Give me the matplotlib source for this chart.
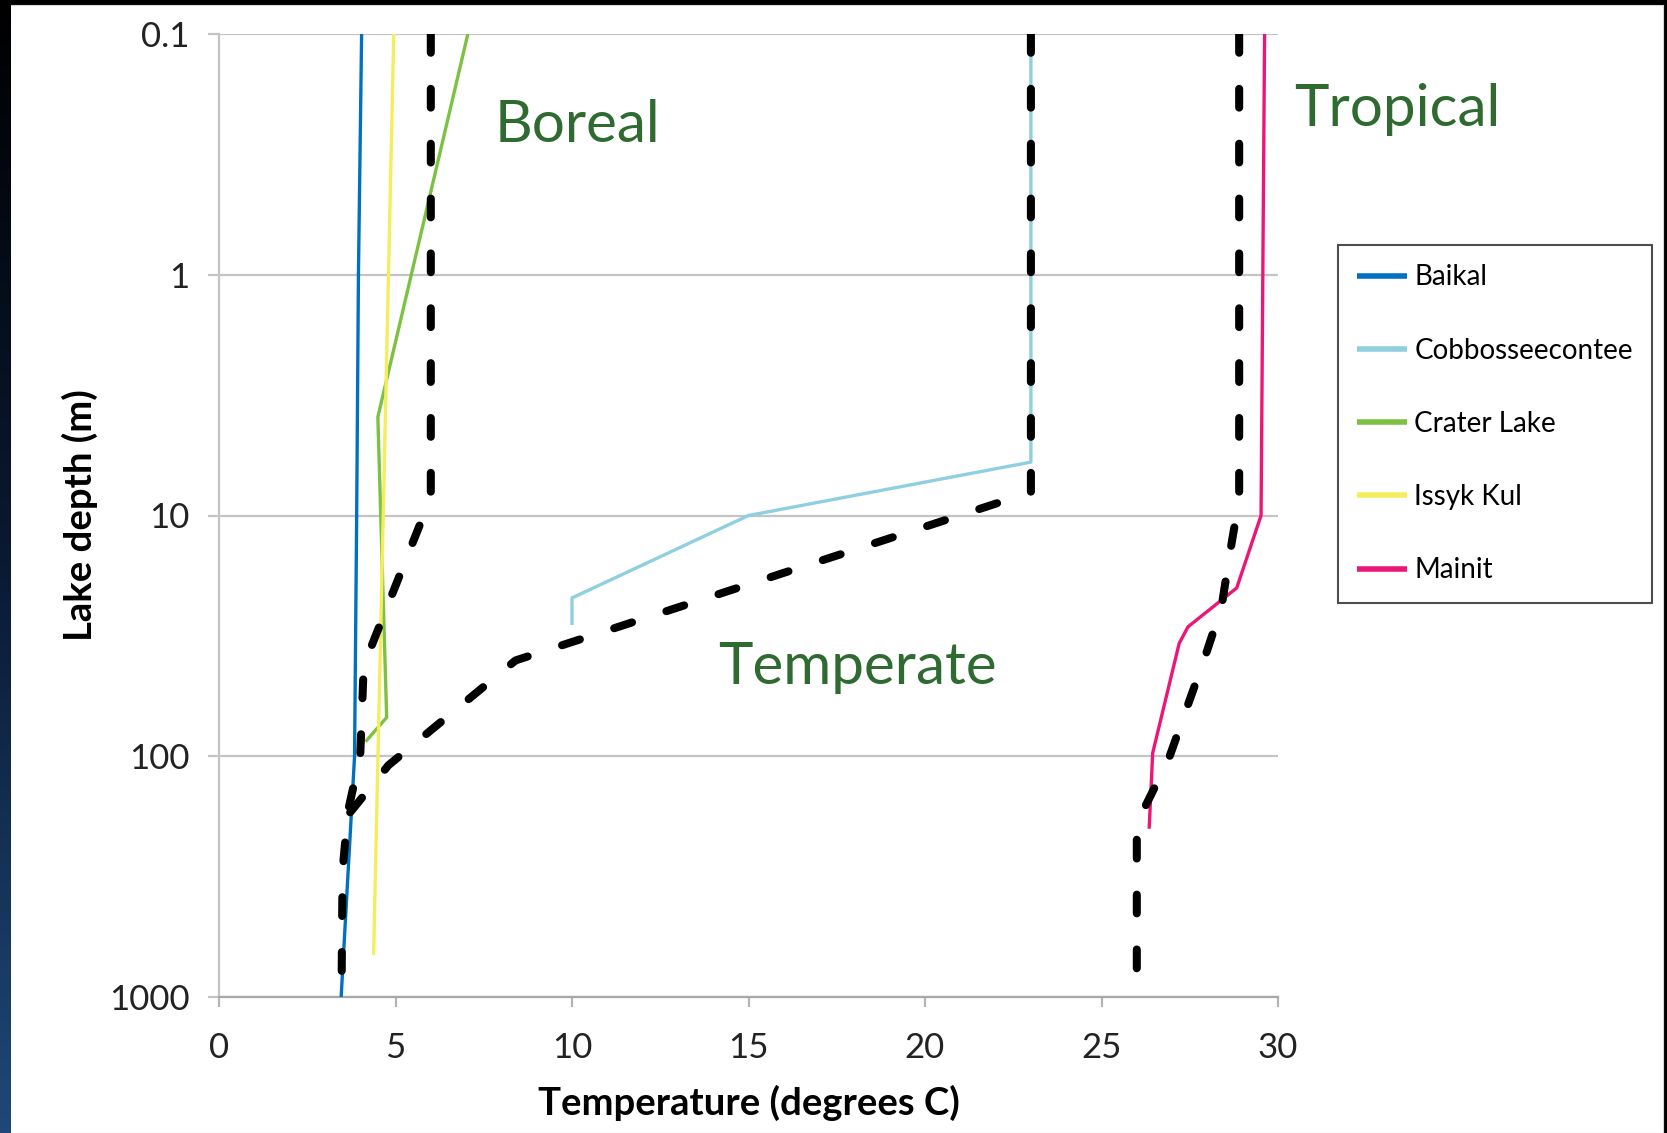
import matplotlib
matplotlib.use("Agg")
import matplotlib.pyplot as plt
import numpy as np
from matplotlib.ticker import FixedLocator, FixedFormatter

# lake temperature profiles (temperature in deg C, depth in m)
baikal_t = [4.04, 3.95, 3.9, 3.84, 3.46]
baikal_d = [0.1, 1, 10, 100, 1000]

cobb_t = [23.0, 23.0, 15.0, 10.0, 10.0]
cobb_d = [0.1, 6, 10, 22, 28.5]

crater_t = [7.05, 4.5, 4.75, 4.15]
crater_d = [0.1, 3.9, 69, 87]

issyk_t = [4.95, 4.38]
issyk_d = [0.1, 668]

mainit_t = [29.62, 29.52, 28.83, 27.45, 27.2, 26.45, 26.35]
mainit_d = [0.1, 10, 20, 29, 34, 97, 200]

# dashed envelopes drawn over the profiles
boreal_t = [6.0, 6.0, 4.1, 4.0, 3.65, 3.5, 3.47]
boreal_d = [0.1, 8.4, 42, 100, 170, 300, 1000]

temperate_t = [23.0, 23.0, 8.4, 4.8, 3.7]
temperate_d = [0.1, 8.0, 40, 109, 172]

tropical_t = [28.9, 28.9, 28.65, 28.4, 27.95, 27.4, 26.9, 26.2, 26.0, 26.0]
tropical_d = [0.1, 8.5, 14, 24, 38, 64, 103, 166, 210, 800]

lake_names = ["Baikal", "Cobbosseecontee", "Crater Lake", "Issyk Kul", "Mainit"]
lake_colors = ["#0070c0", "#8fcfe0", "#7cc142", "#f4ee5e", "#ec1677"]

y_ticks = [0.1, 1, 10, 100, 1000]
y_labels = ["0.1", "1", "10", "100", "1000"]
x_ticks = [0, 5, 10, 15, 20, 25, 30]

plt.rcParams['font.family'] = ['Lato', 'DejaVu Sans']
plt.rcParams['lines.scale_dashes'] = False

fig = plt.figure(figsize=(16.67, 11.33), dpi=100)
fig.patch.set_facecolor("black")

# white slide panel and the dark gradient strip on the left
panel = fig.add_axes([10 / 1667, 0, 1653 / 1667, 1128 / 1133])
panel.set_facecolor("white")
panel.set_xticks([])
panel.set_yticks([])
for s in panel.spines.values():
    s.set_color("#d8d8d8")
strip = fig.add_axes([0, 0, 10 / 1667, 1])
grad = np.linspace(0, 1, 256).reshape(-1, 1)
strip.imshow(grad, aspect="auto", cmap=matplotlib.colors.LinearSegmentedColormap.from_list(
    "s", ["#000000", "#0a1a33", "#1f4878"]), extent=[0, 1, 0, 1], origin="upper")
strip.axis("off")

ax = fig.add_axes([219 / 1667, 136 / 1133, 1059 / 1667, 963 / 1133])
ax.set_facecolor("none")

series = [(baikal_t, baikal_d), (cobb_t, cobb_d), (crater_t, crater_d),
          (issyk_t, issyk_d), (mainit_t, mainit_d)]
for (t, d), name, col in zip(series, lake_names, lake_colors):
    ax.plot(t, d, color=col, lw=2.4, label=name, solid_capstyle="butt", zorder=3)

for t, d in [(boreal_t, boreal_d), (temperate_t, temperate_d), (tropical_t, tropical_d)]:
    ax.plot(t, d, color="black", lw=5.8, dashes=(13.5, 26), dash_capstyle="round",
            zorder=4, label="_nolegend_")

ax.set_yscale("log")
ax.set_ylim(1000, 0.1)
ax.set_xlim(0, 30)
ax.yaxis.set_major_locator(FixedLocator(y_ticks))
ax.yaxis.set_major_formatter(FixedFormatter(y_labels))
ax.yaxis.set_minor_locator(FixedLocator([]))
ax.set_xticks(x_ticks)
ax.grid(axis="y", color="#c4c4c4", lw=1.6)
ax.tick_params(axis="y", length=8, width=1.6, color="#c4c4c4", pad=13,
               labelsize=25, labelcolor="#222222")
ax.tick_params(axis="x", length=7, width=1.6, color="#b4b4b4", pad=18,
               labelsize=25, labelcolor="#222222")
for s in ["top", "right"]:
    ax.spines[s].set_visible(False)
ax.spines["left"].set_color("#c4c4c4")
ax.spines["left"].set_linewidth(1.6)
ax.spines["bottom"].set_color("#a8a8a8")
ax.spines["bottom"].set_linewidth(1.6)

ax.set_xlabel("Temperature (degrees C)", fontsize=27.5, fontweight="bold", labelpad=15)
ax.set_ylabel("Lake depth (m)", fontsize=27.5, fontweight="bold", labelpad=8)

green = "#2f6b30"
ax.text(7.8, 0.28, "Boreal", fontsize=42, color=green, ha="left", va="baseline")
ax.text(14.15, 50, "Temperate", fontsize=42, color=green, ha="left", va="baseline")
ax.text(30.45, 0.24, "Tropical", fontsize=42, color=green, ha="left", va="baseline",
        clip_on=False)

leg = ax.legend(loc="upper left", bbox_to_anchor=(1338 / 1667, 1 - 245 / 1133),
                bbox_transform=fig.transFigure, fontsize=20, frameon=True,
                fancybox=False, edgecolor="#222222", borderpad=0.7, borderaxespad=0,
                labelspacing=1.7, handlelength=1.8, handletextpad=0.25)
leg.get_frame().set_linewidth(1.5)
for line in leg.get_lines():
    line.set_linewidth(4)

fig.savefig("out.png", dpi=100, facecolor=fig.get_facecolor())
